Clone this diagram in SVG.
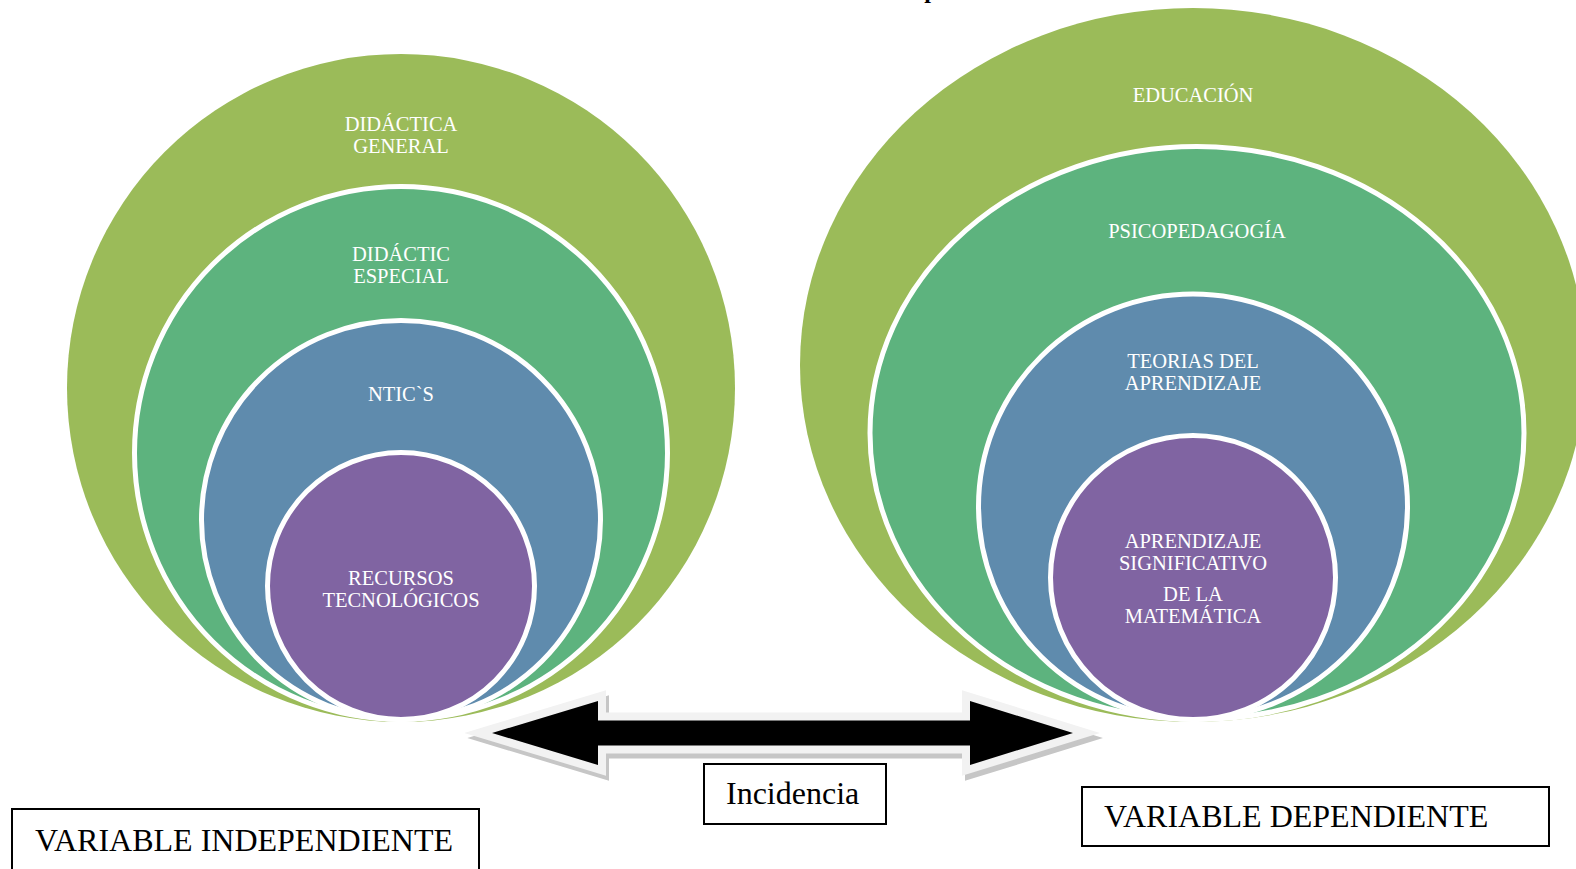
<svg xmlns="http://www.w3.org/2000/svg" width="1576" height="869" viewBox="0 0 1576 869">
  <style>
    .olive { fill: #9bbb59; }
    .green { fill: #5db37e; stroke: #ffffff; stroke-width: 5; }
    .blue { fill: #5f8bad; stroke: #ffffff; stroke-width: 5; }
    .purple { fill: #8064a2; stroke: #ffffff; stroke-width: 5; }
    .lbl { font-family: "Liberation Serif", "Times New Roman", serif; font-size: 20.5px; fill: #ffffff; text-anchor: middle; }
    .box { fill: #ffffff; stroke: #000000; stroke-width: 2; }
    .boxtxt { font-family: "Liberation Serif", "Times New Roman", serif; font-size: 32px; fill: #000000; }
    .arrow { stroke-width: 16; stroke-linejoin: miter; stroke-miterlimit: 10; paint-order: stroke; }
  </style>
  <defs>
    <polygon id="arrowShape" points="492,733 598,701 598,720.5 970,720.5 970,701 1073,733 970,765 970,745.5 598,745.5 598,765"/>
  </defs>
  <rect width="1576" height="869" fill="#ffffff"/>

  <text x="931" y="-2.5" font-family="Liberation Serif, serif" font-weight="bold" font-size="24" text-anchor="middle" fill="#000000">p</text>

  <!-- Left nested circles (independent variable) -->
  <g id="didactica-general">
    <circle class="olive" cx="401" cy="388" r="334"/>
    <text class="lbl" x="401" y="130.5">DIDÁCTICA</text>
    <text class="lbl" x="401" y="152.5">GENERAL</text>
  </g>
  <g id="didactic-especial">
    <circle class="green" cx="401" cy="453" r="266.5"/>
    <text class="lbl" x="401" y="261">DIDÁCTIC</text>
    <text class="lbl" x="401" y="283">ESPECIAL</text>
  </g>
  <g id="ntics">
    <circle class="blue" cx="401" cy="520" r="199.5"/>
    <text class="lbl" x="401" y="401">NTIC`S</text>
  </g>
  <g id="recursos-tecnologicos">
    <circle class="purple" cx="401" cy="586" r="133.5"/>
    <text class="lbl" x="401" y="585">RECURSOS</text>
    <text class="lbl" x="401" y="607">TECNOLÓGICOS</text>
  </g>

  <!-- Right nested ellipses (dependent variable) -->
  <g id="educacion">
    <ellipse class="olive" cx="1193" cy="365" rx="393" ry="357"/>
    <text class="lbl" x="1193" y="101.5">EDUCACIÓN</text>
  </g>
  <g id="psicopedagogia">
    <ellipse class="green" cx="1197" cy="433" rx="327" ry="286.5"/>
    <text class="lbl" x="1197" y="238">PSICOPEDAGOGÍA</text>
  </g>
  <g id="teorias-aprendizaje">
    <ellipse class="blue" cx="1193" cy="506.5" rx="214.5" ry="212.5"/>
    <text class="lbl" x="1193" y="368">TEORIAS DEL</text>
    <text class="lbl" x="1193" y="390">APRENDIZAJE</text>
  </g>
  <g id="aprendizaje-significativo">
    <ellipse class="purple" cx="1193" cy="577.5" rx="142.5" ry="142"/>
    <text class="lbl" x="1193" y="547.5">APRENDIZAJE</text>
    <text class="lbl" x="1193" y="570">SIGNIFICATIVO</text>
    <text class="lbl" x="1193" y="601">DE LA</text>
    <text class="lbl" x="1193" y="623">MATEMÁTICA</text>
  </g>

  <!-- Connector: double-headed arrow -->
  <g id="connectors">
    <use href="#arrowShape" class="arrow" fill="#c0c0c0" stroke="#c6c6c6" transform="translate(3,5)"/>
    <use href="#arrowShape" class="arrow" fill="#000000" stroke="#f2f2f2"/>
  </g>

  <!-- Label boxes -->
  <g id="incidencia">
    <rect class="box" x="704" y="764" width="182" height="60"/>
    <text class="boxtxt" x="726" y="804">Incidencia</text>
  </g>
  <g id="variable-independiente">
    <rect class="box" x="12" y="809" width="467" height="75"/>
    <text class="boxtxt" x="35" y="851">VARIABLE INDEPENDIENTE</text>
  </g>
  <g id="variable-dependiente">
    <rect class="box" x="1082" y="787" width="467" height="59"/>
    <text class="boxtxt" x="1104" y="827">VARIABLE DEPENDIENTE</text>
  </g>
</svg>
